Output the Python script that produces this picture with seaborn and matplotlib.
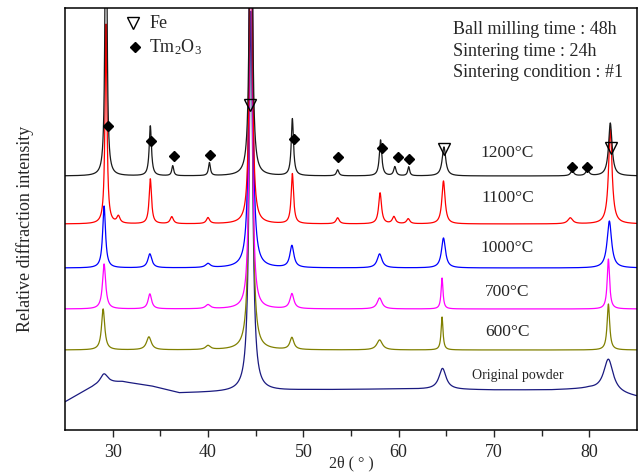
import numpy as np
import pandas as pd
import matplotlib
matplotlib.use("Agg")
import matplotlib.pyplot as plt
import seaborn as sns

# ---------------- data ----------------
samples = ["Original powder", "600°C", "700°C", "1000°C", "1100°C", "1200°C"]
colors = ["#1a1a80", "#808000", "#ff00ff", "#0000ff", "#ff0000", "#1a1a1a"]

# constant baseline level of each pattern (relative intensity units)
baseline = {"1200°C": 254, "1100°C": 206, "1000°C": 162, "700°C": 121, "600°C": 80}

# background of the original powder (amorphous hump), read at these angles
orig_bg_x = [25.0, 26.5, 28.0, 29.0, 31.0, 34.0, 37.0, 42.0, 50.0, 60.0, 70.0, 76.0, 80.0, 85.0]
orig_bg_y = [28.0, 36.0, 43.0, 46.0, 48.0, 44.0, 37.0, 38.0, 40.0, 41.0, 40.0, 40.0, 41.0, 33.0]

# peaks: position (2theta), height above baseline, half width
peaks_1200_pos = [29.3, 33.95, 36.3, 40.15, 44.5, 48.85, 53.6, 58.1, 59.6, 61.05, 64.75, 78.2, 79.8, 82.2]
peaks_1200_hgt = [400, 50, 10, 13, 600, 57, 6, 36, 9, 9, 29, 5, 6, 53]
peaks_1200_wid = [0.10, 0.14, 0.12, 0.12, 0.12, 0.14, 0.15, 0.15, 0.15, 0.12, 0.22, 0.2, 0.2, 0.22]

peaks_1100_pos = [29.3, 30.6, 33.95, 36.2, 40.0, 44.5, 48.85, 53.6, 58.05, 59.5, 61.0, 64.7, 78.0, 82.2]
peaks_1100_hgt = [200, 7, 45, 7, 6, 600, 50, 6, 31, 7, 5, 43, 6, 95]
peaks_1100_wid = [0.12, 0.2, 0.15, 0.2, 0.2, 0.12, 0.15, 0.2, 0.18, 0.2, 0.2, 0.2, 0.3, 0.22]

peaks_1000_pos = [29.1, 33.9, 40.0, 44.5, 48.8, 58.0, 64.7, 82.1]
peaks_1000_hgt = [62, 14, 4, 600, 22, 14, 30, 47]
peaks_1000_wid = [0.18, 0.25, 0.3, 0.15, 0.25, 0.3, 0.25, 0.28]

peaks_700_pos = [29.1, 33.9, 40.0, 44.5, 48.8, 58.0, 64.55, 82.0]
peaks_700_hgt = [45, 15, 4, 600, 15, 11, 31, 50]
peaks_700_wid = [0.2, 0.22, 0.3, 0.13, 0.25, 0.3, 0.12, 0.15]

peaks_600_pos = [29.0, 33.8, 40.0, 44.5, 48.8, 58.0, 64.55, 82.0]
peaks_600_hgt = [41, 13, 4, 600, 12, 10, 33, 46]
peaks_600_wid = [0.2, 0.3, 0.3, 0.15, 0.25, 0.35, 0.12, 0.16]

peaks_orig_pos = [29.1, 44.5, 64.6, 82.0]
peaks_orig_hgt = [10, 380, 21, 33]
peaks_orig_wid = [0.5, 0.22, 0.45, 0.6]

# phase markers
fe_x = [44.4, 64.8, 82.3]
fe_y = [325, 281, 282]
tm_x = [29.5, 34.0, 36.4, 40.2, 49.0, 53.6, 58.2, 59.9, 61.1, 78.2, 79.8]
tm_y = [304, 289, 274, 275, 291, 273, 282, 273, 271, 263, 263]

# ---------------- build the patterns ----------------
two_theta = np.linspace(25, 85, 4001)


def pattern(pos, hgt, wid):
    y = np.zeros_like(two_theta)
    for p, h, w in zip(pos, hgt, wid):
        y += h * w ** 2 / ((two_theta - p) ** 2 + w ** 2)
    return y


curves = {
    "Original powder": np.interp(two_theta, orig_bg_x, orig_bg_y)
    + pattern(peaks_orig_pos, peaks_orig_hgt, peaks_orig_wid),
    "600°C": baseline["600°C"] + pattern(peaks_600_pos, peaks_600_hgt, peaks_600_wid),
    "700°C": baseline["700°C"] + pattern(peaks_700_pos, peaks_700_hgt, peaks_700_wid),
    "1000°C": baseline["1000°C"] + pattern(peaks_1000_pos, peaks_1000_hgt, peaks_1000_wid),
    "1100°C": baseline["1100°C"] + pattern(peaks_1100_pos, peaks_1100_hgt, peaks_1100_wid),
    "1200°C": baseline["1200°C"] + pattern(peaks_1200_pos, peaks_1200_hgt, peaks_1200_wid),
}

df = pd.concat(
    [pd.DataFrame({"two_theta": two_theta, "intensity": curves[s], "sample": s}) for s in samples],
    ignore_index=True,
)

# ---------------- plot ----------------
sns.set_style("ticks")
plt.rcParams["font.family"] = ["Liberation Serif", "DejaVu Serif"]
plt.rcParams["mathtext.fontset"] = "custom"
plt.rcParams["mathtext.rm"] = "Liberation Serif"
plt.rcParams["mathtext.it"] = "Liberation Serif:italic"

fig = plt.figure(figsize=(6.41, 4.73), dpi=100)
ax = fig.add_axes([65 / 641, 1 - 430 / 473, 572 / 641, 422 / 473])

sns.lineplot(
    data=df, x="two_theta", y="intensity", hue="sample", hue_order=samples,
    palette=colors, estimator=None, sort=False, legend=False, linewidth=0.9, ax=ax,
)

ax.set_xlim(25, 85)
ax.set_ylim(0, 422)
ax.set_xticks([30, 40, 50, 60, 70, 80])
ax.set_xticks([35, 45, 55, 65, 75], minor=True)
ax.set_yticks([])
ax.tick_params(axis="x", which="major", direction="out", length=5, width=1, labelsize=13, pad=5)
ax.tick_params(axis="x", which="minor", direction="out", length=4, width=1)
for sp in ax.spines.values():
    sp.set_linewidth(1.1)
    sp.set_color("black")
ax.set_xlabel("")
ax.set_ylabel("")

# phase markers on the 1200°C pattern
ax.plot(tm_x, tm_y, linestyle="none", marker="D", markersize=5.3, color="black")
ax.plot(fe_x, fe_y, linestyle="none", marker="v", markersize=8,
        markerfacecolor="none", markeredgecolor="black", markeredgewidth=1.0)

# legend-like key (top left)
ax.plot([0.119], [0.964], transform=ax.transAxes, linestyle="none", marker="v", markersize=8,
        markerfacecolor="none", markeredgecolor="black", markeredgewidth=1.0, clip_on=False)
ax.plot([0.122], [0.908], transform=ax.transAxes, linestyle="none", marker="D", markersize=5.3,
        color="black", clip_on=False)
ax.text(0.147, 0.964, "Fe", transform=ax.transAxes, fontsize=13, va="center", ha="left")
ax.text(0.147, 0.908, "Tm$_2$O$_3$", transform=ax.transAxes, fontsize=13, va="center", ha="left")

# condition text (top right)
info = ["Ball milling time : 48h", "Sintering time : 24h", "Sintering condition : #1"]
for i, t in enumerate(info):
    ax.text(0.678, 0.950 - i * 0.052, t, transform=ax.transAxes, fontsize=13, va="center", ha="left")

# sample labels
label_y = {"1200°C": 277, "1100°C": 232, "1000°C": 182, "700°C": 138, "600°C": 98}
for s, yv in label_y.items():
    ax.text(71.4, yv, s, fontsize=12.5, ha="center", va="center")
ax.text(72.5, 55, "Original powder", fontsize=10, ha="center", va="center")

fig.text(25 / 641, 1 - 229 / 473, "Relative diffraction intensity", rotation=90,
         fontsize=13, ha="center", va="center")
fig.text(351 / 641, 1 - 463 / 473, "2θ ( ° )", fontsize=11.5, ha="center", va="center")

fig.savefig("out.png", dpi=100)
